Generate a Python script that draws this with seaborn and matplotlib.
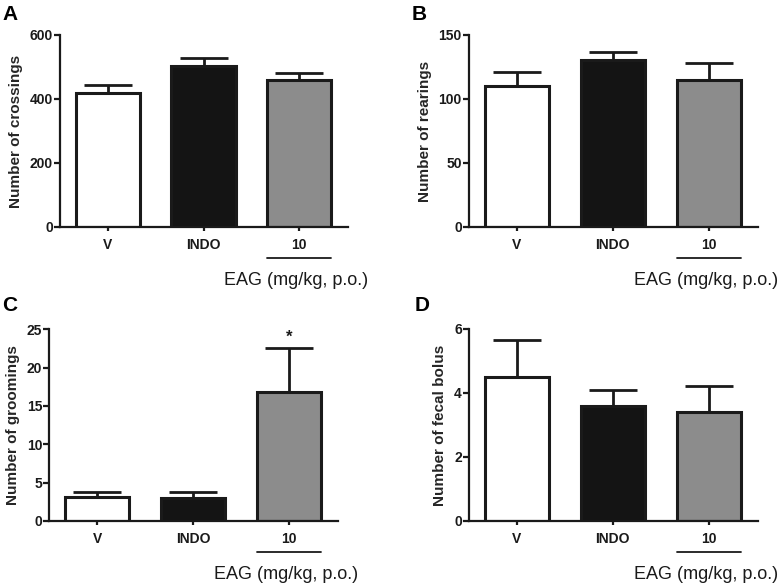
import matplotlib
matplotlib.use("Agg")
import matplotlib.pyplot as plt
import seaborn as sns
import pandas as pd

sns.set_theme(style="ticks")
plt.rcParams['font.family'] = ['Liberation Sans', 'DejaVu Sans']

groups = ["V", "INDO", "10"]
bar_colors = ["#ffffff", "#141414", "#8c8c8c"]

crossings_mean = [419, 502, 459]
crossings_sem = [25, 27, 21]
rearings_mean = [110, 130.5, 114.5]
rearings_sem = [10.8, 6.5, 13.3]
groomings_mean = [3.15, 3.0, 16.8]
groomings_sem = [0.65, 0.8, 5.8]
fecal_mean = [4.5, 3.6, 3.4]
fecal_sem = [1.17, 0.5, 0.83]

panels = [
    ("A", "Number of crossings", crossings_mean, crossings_sem, 600, [0, 200, 400, 600], None),
    ("B", "Number of rearings", rearings_mean, rearings_sem, 150, [0, 50, 100, 150], None),
    ("C", "Number of groomings", groomings_mean, groomings_sem, 25, [0, 5, 10, 15, 20, 25], 2),
    ("D", "Number of fecal bolus", fecal_mean, fecal_sem, 6, [0, 2, 4, 6], None),
]

W, H = 778, 583
positions = [
    (60, 348, 35, 227),
    (468.7, 757.7, 35, 227),
    (49.3, 338, 329.3, 521),
    (468.7, 757.7, 329, 521),
]
label_pos = [(2, 5), (412, 5), (2, 296), (415, 296)]

fig = plt.figure(figsize=(W / 100, H / 100), dpi=100)

for (letter, ylabel, means, sems, ymax, yticks, star), (l, r, t, b), (lx, ly) in zip(panels, positions, label_pos):
    ax = fig.add_axes([l / W, 1 - b / H, (r - l) / W, (b - t) / H])
    df = pd.DataFrame({"group": groups, "value": means})
    sns.barplot(data=df, x="group", y="value", hue="group", palette=bar_colors,
                order=groups, hue_order=groups, width=0.67, edgecolor="#1a1a1a",
                linewidth=2.2, legend=False, ax=ax, errorbar=None)
    ax.errorbar(range(len(groups)), means, yerr=[[0] * len(sems), sems], fmt="none",
                ecolor="#1a1a1a", elinewidth=2.0, capsize=17.5, capthick=2.0, zorder=1)
    for p in ax.patches:
        p.set_zorder(2)
    ax.set_xlim(-0.5, 2.51)
    ax.set_ylim(0, ymax)
    ax.set_yticks(yticks)
    ax.set_xlabel("")
    ax.set_ylabel(ylabel, fontsize=11, fontweight="bold", labelpad=5)
    sns.despine(ax=ax)
    for s in ["left", "bottom"]:
        ax.spines[s].set_linewidth(1.6)
        ax.spines[s].set_color("#1a1a1a")
    ax.tick_params(axis="y", direction="out", length=4, width=1.6, color="#1a1a1a",
                   labelsize=10, pad=1)
    ax.tick_params(axis="x", direction="out", length=3, width=1.6, color="#1a1a1a",
                   labelsize=10, pad=5)
    for lab in ax.get_xticklabels() + ax.get_yticklabels():
        lab.set_fontweight("bold")
        lab.set_color("#1a1a1a")
    tr = ax.get_xaxis_transform()
    ax.plot([2 - 0.335, 2 + 0.335], [-0.162, -0.162], transform=tr, color="#1a1a1a",
            lw=1.3, clip_on=False)
    ax.text(1.97, -0.278, "EAG (mg/kg, p.o.)", transform=tr, ha="center", va="center",
            fontsize=13, color="#1a1a1a")
    if star is not None:
        ax.text(star, means[star] + sems[star] + 0.4, "*", ha="center", va="bottom",
                fontsize=12, fontweight="bold", color="#1a1a1a")
    fig.text(lx / W, 1 - ly / H, letter, ha="left", va="top", fontsize=15,
             fontweight="bold", color="#000000")

fig.savefig("out.png", dpi=100)
